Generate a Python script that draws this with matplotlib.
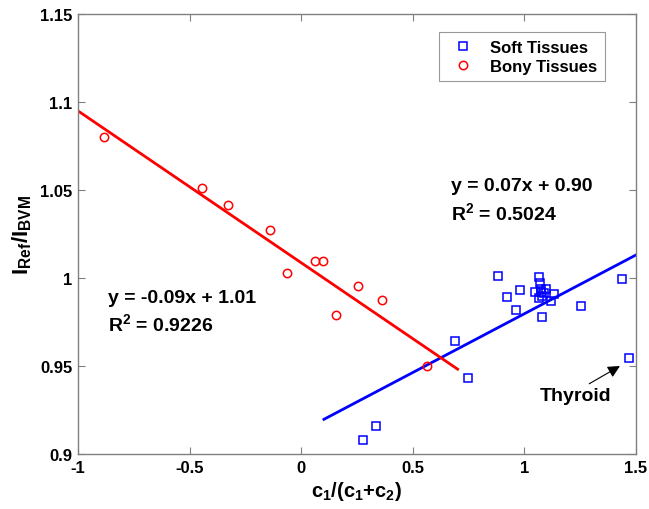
import matplotlib
matplotlib.use('Agg')
import matplotlib.pyplot as plt
import numpy as np

plt.rcParams['font.family'] = ['Liberation Sans', 'DejaVu Sans']
plt.rcParams['font.weight'] = 'bold'
plt.rcParams['mathtext.fontset'] = 'custom'
plt.rcParams['mathtext.rm'] = 'Liberation Sans:bold'
plt.rcParams['mathtext.it'] = 'Liberation Sans:bold'
plt.rcParams['mathtext.bf'] = 'Liberation Sans:bold'

# soft tissue samples
soft_x = [0.277, 0.335, 0.689, 0.747, 0.882, 0.922, 0.962, 0.980, 1.047, 1.065,
          1.070, 1.074, 1.074, 1.097, 1.088, 1.079, 1.065, 1.133, 1.119, 1.079,
          1.254, 1.437, 1.469]
soft_y = [0.908, 0.916, 0.964, 0.943, 1.001, 0.989, 0.982, 0.993, 0.992, 1.0006,
          0.997, 0.994, 0.992, 0.994, 0.9915, 0.990, 0.9886, 0.991, 0.987, 0.978,
          0.984, 0.9994, 0.9545]

# bony tissue samples
bony_x = [-0.884, -0.444, -0.328, -0.138, -0.065, 0.062, 0.096, 0.256, 0.1545,
          0.3605, 0.562]
bony_y = [1.080, 1.051, 1.0413, 1.0271, 1.0027, 1.0098, 1.0098, 0.9955, 0.9788,
          0.9875, 0.9502]

# linear fits (slope, intercept) and the x-range each is drawn over
soft_fit = (0.0668, 0.9129)
soft_range = (0.102, 1.5)
bony_fit = (-0.0863, 1.0087)
bony_range = (-1.0, 0.701)

soft_eq = ['y = 0.07x + 0.90', r'R$^2$ = 0.5024']
bony_eq = ['y = -0.09x + 1.01', r'R$^2$ = 0.9226']

xticks = [-1, -0.5, 0, 0.5, 1, 1.5]
xticklabels = ['-1', '-0.5', '0', '0.5', '1', '1.5']
yticks = [0.9, 0.95, 1.0, 1.05, 1.1, 1.15]
yticklabels = ['0.9', '0.95', '1', '1.05', '1.1', '1.15']

fig = plt.figure(figsize=(6.49, 5.10), dpi=100)
ax = fig.add_axes([0.120, 0.1078, 0.860, 0.8628])

ax.plot(soft_x, soft_y, 's', ms=5.5, mfc='none', mec='blue', mew=1.1,
        label='Soft Tissues', zorder=3)
ax.plot(bony_x, bony_y, 'o', ms=6, mfc='none', mec='red', mew=1.1,
        label='Bony Tissues', zorder=3)

xs = np.array(soft_range)
ax.plot(xs, soft_fit[0] * xs + soft_fit[1], '-', color='blue', lw=2.0, zorder=2)
xb = np.array(bony_range)
ax.plot(xb, bony_fit[0] * xb + bony_fit[1], '-', color='red', lw=2.0, zorder=2)

ax.text(0.671, 1.0528, soft_eq[0], fontsize=14, fontweight='bold', va='center')
ax.text(0.671, 1.0375, soft_eq[1], fontsize=14, fontweight='bold', va='center')
ax.text(-0.867, 0.989, bony_eq[0], fontsize=14, fontweight='bold', va='center')
ax.text(-0.867, 0.9745, bony_eq[1], fontsize=14, fontweight='bold', va='center')

ax.annotate('Thyroid', xy=(1.428, 0.950), xytext=(1.07, 0.9335),
            fontsize=14, fontweight='bold', va='center',
            arrowprops=dict(arrowstyle='-|>', color='black', lw=0.8,
                            mutation_scale=18, shrinkA=0, shrinkB=0,
                            relpos=(0.62, 1.0)))

ax.set_xlim(-1, 1.5)
ax.set_ylim(0.9, 1.15)
ax.set_xticks(xticks)
ax.set_xticklabels(xticklabels)
ax.set_yticks(yticks)
ax.set_yticklabels(yticklabels)
ax.tick_params(direction='in', length=5, width=0.8, color='#808080',
               top=True, right=True, labelsize=12, pad=4)
for lab in ax.get_xticklabels() + ax.get_yticklabels():
    lab.set_fontweight('bold')
for sp in ax.spines.values():
    sp.set_color('#808080')
    sp.set_linewidth(1.0)

ax.set_xlabel(r'c$_1$/(c$_1$+c$_2$)', fontsize=14.5, fontweight='bold', labelpad=3)
ax.set_ylabel(r'I$_{Ref}$/I$_{BVM}$', fontsize=16, fontweight='bold', labelpad=4)

leg = ax.legend(loc='upper right', bbox_to_anchor=(0.944, 0.959),
                borderaxespad=0, fancybox=False, fontsize=12,
                handlelength=2.0, handletextpad=0.6, borderpad=0.45,
                labelspacing=0.25)
leg.get_frame().set_edgecolor('#808080')
leg.get_frame().set_linewidth(0.8)
for t in leg.get_texts():
    t.set_fontweight('bold')

fig.savefig('out.png', dpi=100)
